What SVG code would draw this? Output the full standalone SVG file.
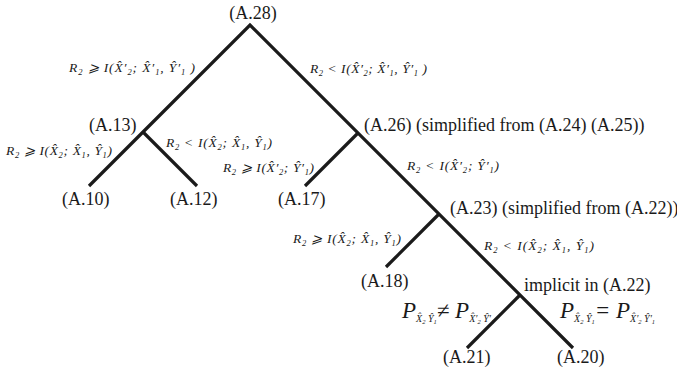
<svg xmlns="http://www.w3.org/2000/svg" width="677" height="379" viewBox="0 0 677 379">
<style>
.diag-edge{stroke:#1a1a1a;stroke-width:3.2;fill:none;stroke-linecap:butt}
</style>
<rect x="0" y="0" width="677" height="379" fill="#ffffff"/>
<g id="connectors">
<polyline class="diag-edge" points="89,186 143,132 250,25 573,348"/>
<line class="diag-edge" x1="143" y1="132" x2="197" y2="186"/>
<line class="diag-edge" x1="358" y1="133" x2="305" y2="186"/>
<line class="diag-edge" x1="439" y1="214" x2="386" y2="267"/>
<line class="diag-edge" x1="520" y1="295" x2="467" y2="348"/>
</g>
<g id="edge-labels" fill="#1a1a1a">
<text style="font-family:'Liberation Serif','Times New Roman',Tinos,serif !important;font-style:italic;font-size:13.5px" x="69" y="72" textLength="126" lengthAdjust="spacing">R<tspan font-size="8.5" dy="3">2</tspan><tspan dy="-3"> ⩾ I(X&#x302;′</tspan><tspan font-size="8.5" dy="3">2</tspan><tspan dy="-3">; X&#x302;′</tspan><tspan font-size="8.5" dy="3">1</tspan><tspan dy="-3">, Y&#x302;′</tspan><tspan font-size="8.5" dy="3">1</tspan><tspan dy="-3"> )</tspan></text>
<text style="font-family:'Liberation Serif','Times New Roman',Tinos,serif !important;font-style:italic;font-size:13.5px" x="310" y="73" textLength="117" lengthAdjust="spacing">R<tspan font-size="8.5" dy="3">2</tspan><tspan dy="-3"> &lt; I(X&#x302;′</tspan><tspan font-size="8.5" dy="3">2</tspan><tspan dy="-3">; X&#x302;′</tspan><tspan font-size="8.5" dy="3">1</tspan><tspan dy="-3">, Y&#x302;′</tspan><tspan font-size="8.5" dy="3">1</tspan><tspan dy="-3"> )</tspan></text>
<text style="font-family:'Liberation Serif','Times New Roman',Tinos,serif !important;font-style:italic;font-size:13.5px" x="6" y="155" textLength="106" lengthAdjust="spacing">R<tspan font-size="8.5" dy="3">2</tspan><tspan dy="-3"> ⩾ I(X&#x302;</tspan><tspan font-size="8.5" dy="3">2</tspan><tspan dy="-3">; X&#x302;</tspan><tspan font-size="8.5" dy="3">1</tspan><tspan dy="-3">, Y&#x302;</tspan><tspan font-size="8.5" dy="3">1</tspan><tspan dy="-3">)</tspan></text>
<text style="font-family:'Liberation Serif','Times New Roman',Tinos,serif !important;font-style:italic;font-size:13.5px" x="166" y="147" textLength="106" lengthAdjust="spacing">R<tspan font-size="8.5" dy="3">2</tspan><tspan dy="-3"> &lt; I(X&#x302;</tspan><tspan font-size="8.5" dy="3">2</tspan><tspan dy="-3">; X&#x302;</tspan><tspan font-size="8.5" dy="3">1</tspan><tspan dy="-3">, Y&#x302;</tspan><tspan font-size="8.5" dy="3">1</tspan><tspan dy="-3">)</tspan></text>
<text style="font-family:'Liberation Serif','Times New Roman',Tinos,serif !important;font-style:italic;font-size:13.5px" x="223" y="172" textLength="91" lengthAdjust="spacing">R<tspan font-size="8.5" dy="3">2</tspan><tspan dy="-3"> ⩾ I(X&#x302;′</tspan><tspan font-size="8.5" dy="3">2</tspan><tspan dy="-3">; Y&#x302;′</tspan><tspan font-size="8.5" dy="3">1</tspan><tspan dy="-3">)</tspan></text>
<text style="font-family:'Liberation Serif','Times New Roman',Tinos,serif !important;font-style:italic;font-size:13.5px" x="407" y="170" textLength="92" lengthAdjust="spacing">R<tspan font-size="8.5" dy="3">2</tspan><tspan dy="-3"> &lt; I(X&#x302;′</tspan><tspan font-size="8.5" dy="3">2</tspan><tspan dy="-3">; Y&#x302;′</tspan><tspan font-size="8.5" dy="3">1</tspan><tspan dy="-3">)</tspan></text>
<text style="font-family:'Liberation Serif','Times New Roman',Tinos,serif !important;font-style:italic;font-size:13.5px" x="293" y="243" textLength="108" lengthAdjust="spacing">R<tspan font-size="8.5" dy="3">2</tspan><tspan dy="-3"> ⩾ I(X&#x302;</tspan><tspan font-size="8.5" dy="3">2</tspan><tspan dy="-3">; X&#x302;</tspan><tspan font-size="8.5" dy="3">1</tspan><tspan dy="-3">, Y&#x302;</tspan><tspan font-size="8.5" dy="3">1</tspan><tspan dy="-3">)</tspan></text>
<text style="font-family:'Liberation Serif','Times New Roman',Tinos,serif !important;font-style:italic;font-size:13.5px" x="484" y="250" textLength="110" lengthAdjust="spacing">R<tspan font-size="8.5" dy="3">2</tspan><tspan dy="-3"> &lt; I(X&#x302;</tspan><tspan font-size="8.5" dy="3">2</tspan><tspan dy="-3">; X&#x302;</tspan><tspan font-size="8.5" dy="3">1</tspan><tspan dy="-3">, Y&#x302;</tspan><tspan font-size="8.5" dy="3">1</tspan><tspan dy="-3">)</tspan></text>
<text style="font-family:'Liberation Serif','Times New Roman',Tinos,serif !important;font-style:italic;font-size:23px" x="402" y="318">P<tspan font-size="10" dy="4">X&#x302;</tspan><tspan font-size="6.5" dy="2">2</tspan><tspan font-size="10" dy="-2"> Y&#x302;</tspan><tspan font-size="6.5" dy="2">1</tspan><tspan dy="-6">≠ P</tspan><tspan font-size="10" dy="4">X&#x302;′</tspan><tspan font-size="6.5" dy="2">2</tspan><tspan font-size="10" dy="-2"> Y&#x302;′</tspan><tspan font-size="6.5" dy="2">1</tspan></text>
<text style="font-family:'Liberation Serif','Times New Roman',Tinos,serif !important;font-style:italic;font-size:23px" x="560" y="318">P<tspan font-size="10" dy="4">X&#x302;</tspan><tspan font-size="6.5" dy="2">2</tspan><tspan font-size="10" dy="-2"> Y&#x302;</tspan><tspan font-size="6.5" dy="2">1</tspan><tspan dy="-6">= P</tspan><tspan font-size="10" dy="4">X&#x302;′</tspan><tspan font-size="6.5" dy="2">2</tspan><tspan font-size="10" dy="-2"> Y&#x302;′</tspan><tspan font-size="6.5" dy="2">1</tspan></text>
</g>
<g id="n-A28"><text style="font-family:'Liberation Serif','Times New Roman',Tinos,serif !important;font-size:18px;fill:#1a1a1a" x="253" y="19" text-anchor="middle">(A.28)</text></g>
<g id="n-A13"><text style="font-family:'Liberation Serif','Times New Roman',Tinos,serif !important;font-size:18px;fill:#1a1a1a" x="89" y="131">(A.13)</text></g>
<g id="n-A10"><text style="font-family:'Liberation Serif','Times New Roman',Tinos,serif !important;font-size:18px;fill:#1a1a1a" x="62" y="205">(A.10)</text></g>
<g id="n-A12"><text style="font-family:'Liberation Serif','Times New Roman',Tinos,serif !important;font-size:18px;fill:#1a1a1a" x="170" y="205">(A.12)</text></g>
<g id="n-A26"><text style="font-family:'Liberation Serif','Times New Roman',Tinos,serif !important;font-size:18px;fill:#1a1a1a" x="364" y="131">(A.26) (simplified from (A.24) (A.25))</text></g>
<g id="n-A17"><text style="font-family:'Liberation Serif','Times New Roman',Tinos,serif !important;font-size:18px;fill:#1a1a1a" x="278" y="205">(A.17)</text></g>
<g id="n-A23"><text style="font-family:'Liberation Serif','Times New Roman',Tinos,serif !important;font-size:18px;fill:#1a1a1a" x="450" y="214">(A.23) (simplified from (A.22))</text></g>
<g id="n-A18"><text style="font-family:'Liberation Serif','Times New Roman',Tinos,serif !important;font-size:18px;fill:#1a1a1a" x="361" y="287">(A.18)</text></g>
<g id="n-impl"><text style="font-family:'Liberation Serif','Times New Roman',Tinos,serif !important;font-size:18px;fill:#1a1a1a" x="524" y="291">implicit in (A.22)</text></g>
<g id="n-A21"><text style="font-family:'Liberation Serif','Times New Roman',Tinos,serif !important;font-size:18px;fill:#1a1a1a" x="443" y="363">(A.21)</text></g>
<g id="n-A20"><text style="font-family:'Liberation Serif','Times New Roman',Tinos,serif !important;font-size:18px;fill:#1a1a1a" x="557" y="363">(A.20)</text></g>
</svg>
